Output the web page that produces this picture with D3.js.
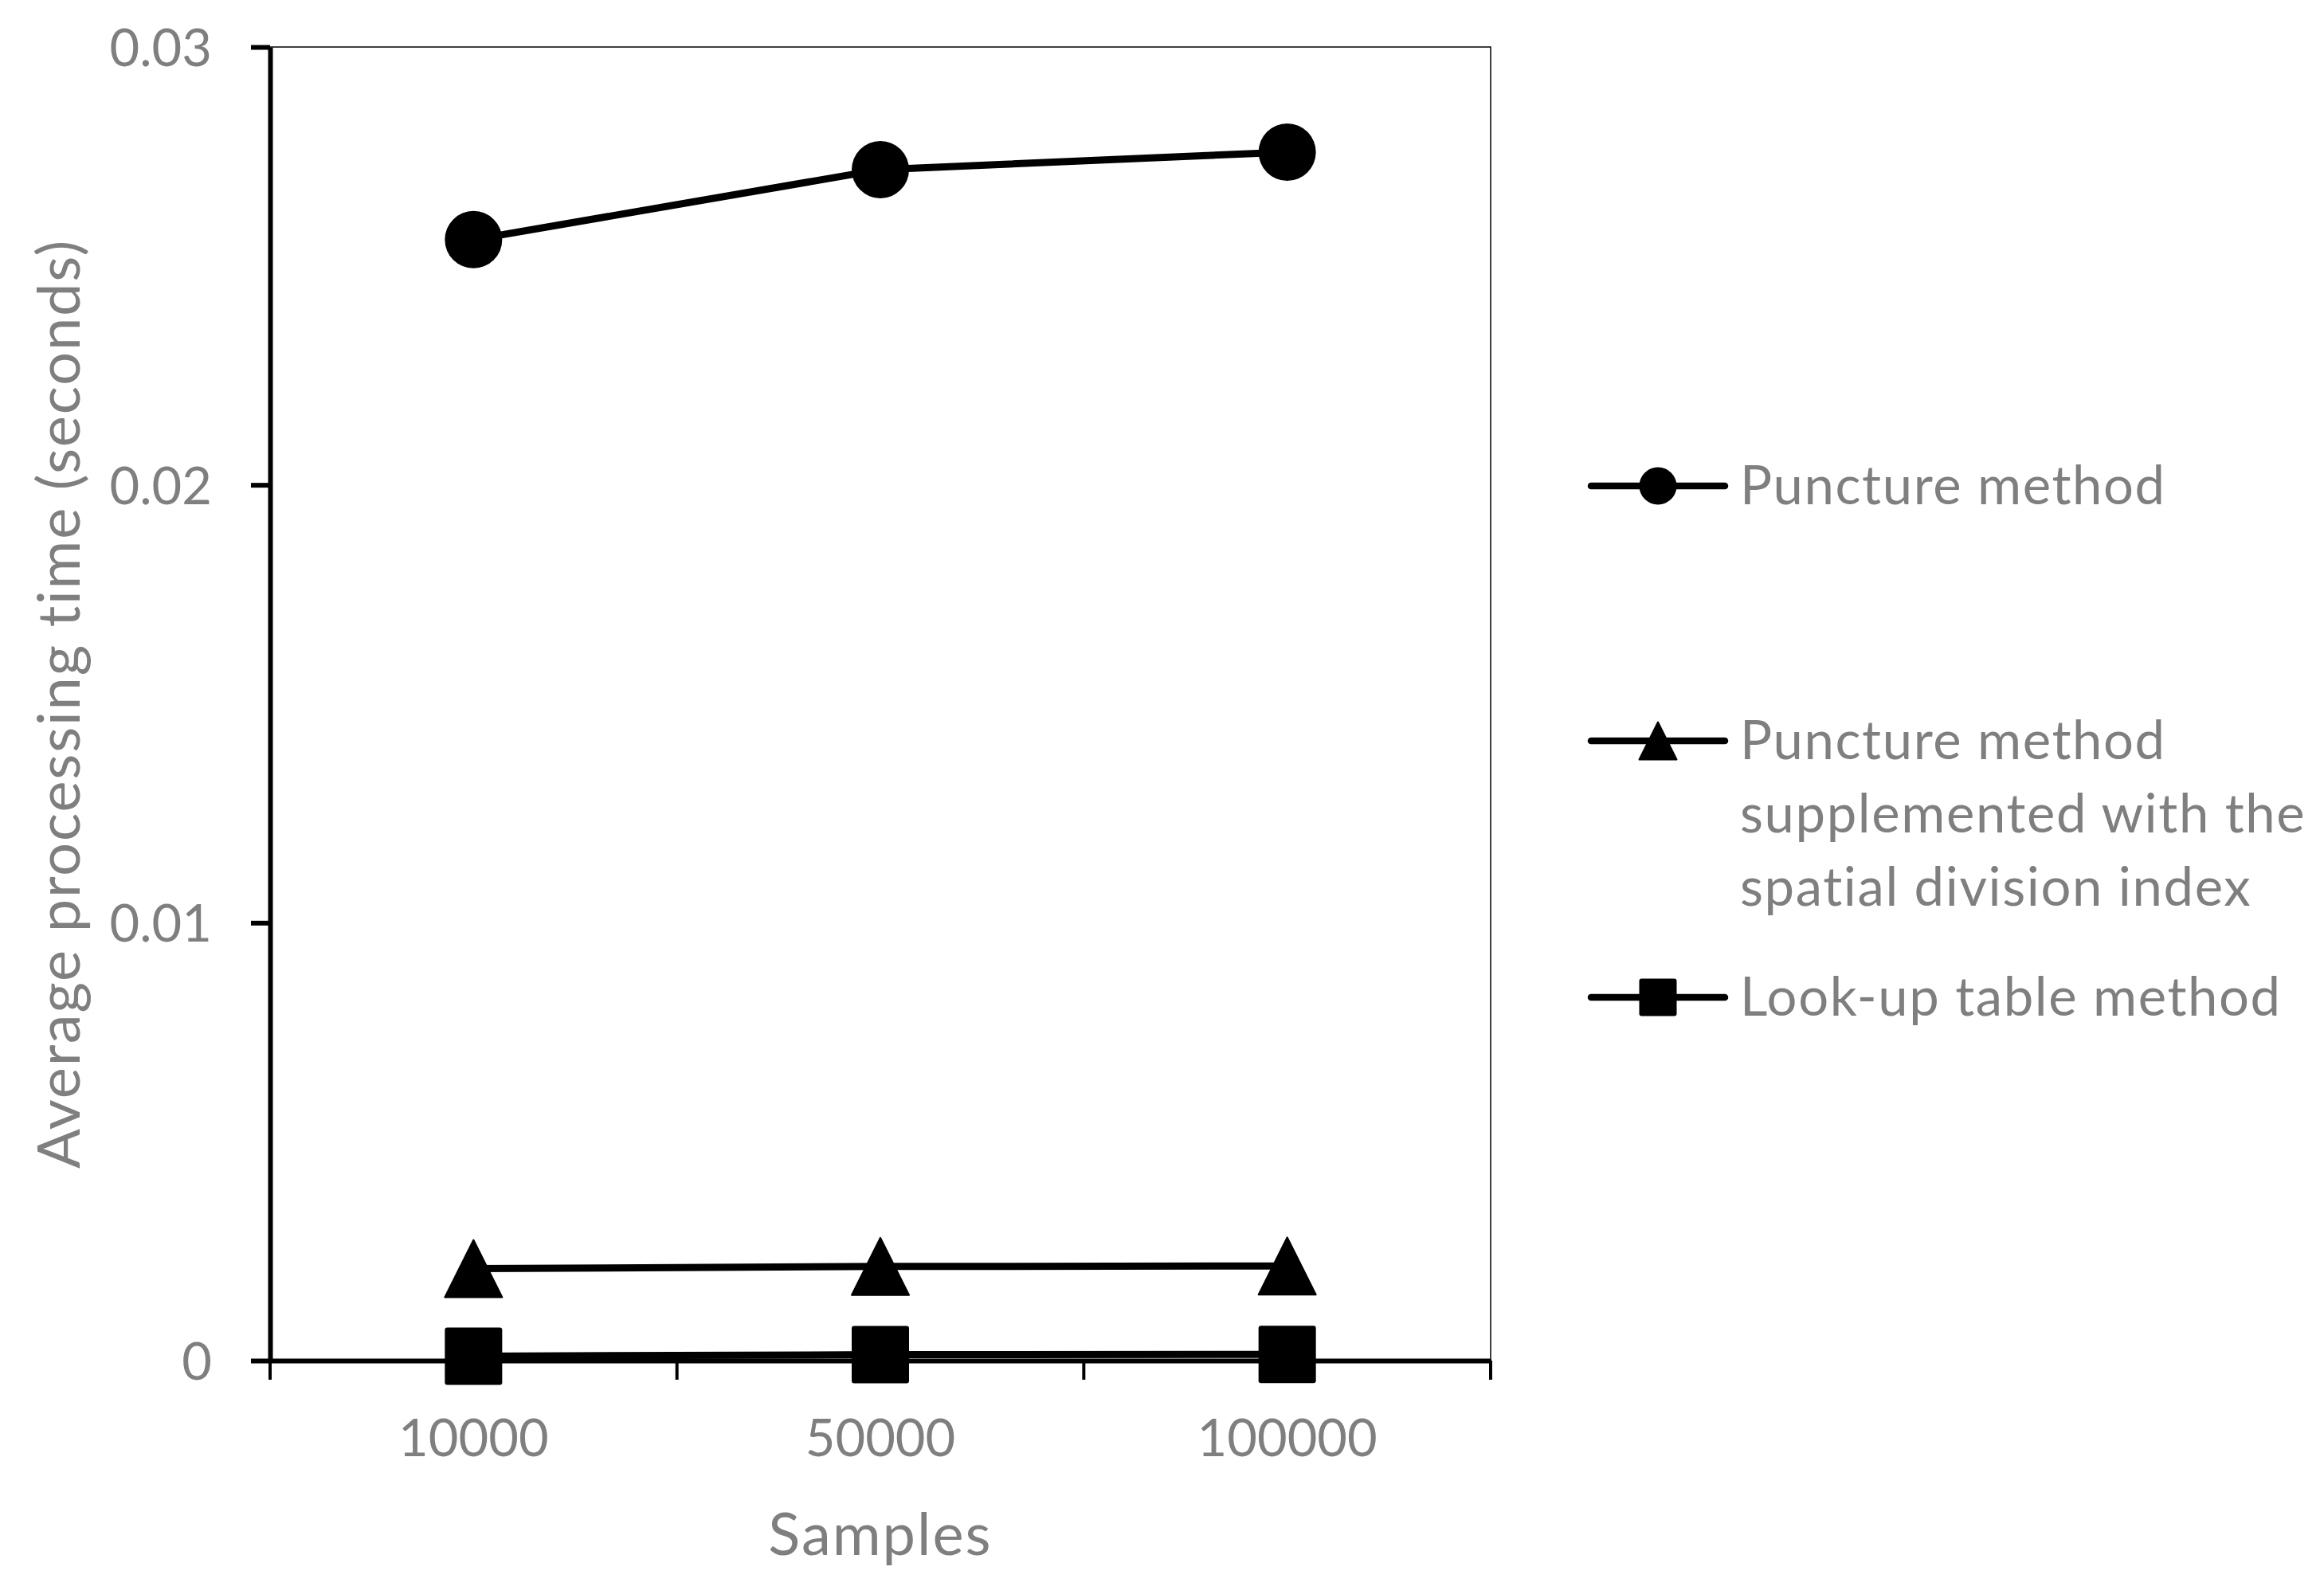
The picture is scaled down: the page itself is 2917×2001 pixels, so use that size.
<!DOCTYPE html>
<html>
<head>
<meta charset="utf-8">
<script src="https://cdn.jsdelivr.net/npm/d3@7"></script>
<style>
  body { margin: 0; background: #fff; }
  svg { display: block; font-family: Lato, "Open Sans", sans-serif; }
</style>
</head>
<body>
<div id="app"></div>
<script>
// data
const samples = ['10000', '50000', '100000'];
const punctureTimes = [0.0256, 0.0272, 0.0276];
const indexedTimes = [0.0021, 0.00215, 0.00216];
const lookupTimes = [0.0001, 0.000135, 0.00014];
const yTicks = [0, 0.01, 0.02, 0.03];
const seriesNames = [
  ['Puncture method'],
  ['Puncture method', 'supplemented with the', 'spatial division index'],
  ['Look-up table method']
];

const W = 2917, H = 2001;
const plotLeft = 339, plotRight = 1871, plotTop = 59, plotBottom = 1708;
const grey = '#7f7f7f';

const svg = d3.select('#app').append('svg')
  .attr('width', W)
  .attr('height', H);

const x = d3.scaleBand().domain(samples).range([plotLeft, plotRight]);
const y = d3.scaleLinear().domain([0, 0.03]).range([plotBottom, plotTop]);

// plot border (thin top / right)
svg.append('path')
  .attr('d', `M${plotLeft},${plotTop}H${plotRight}V${plotBottom}`)
  .attr('fill', 'none')
  .attr('stroke', '#000')
  .attr('stroke-width', 1.5);

// y axis
const yAxis = svg.append('g')
  .attr('transform', `translate(${plotLeft},0)`)
  .call(d3.axisLeft(y).tickValues(yTicks).tickSize(24).tickSizeOuter(0).tickPadding(49)
    .tickFormat((d) => (d === 0 ? '0' : String(d))));
yAxis.select('.domain').attr('stroke-width', 6);
yAxis.selectAll('.tick line').attr('stroke-width', 6);
yAxis.selectAll('text')
  .attr('font-size', 65)
  .attr('font-family', 'Lato')
  .attr('fill', grey)
  .attr('dy', '0.36em');

// x axis: labels at band centres, ticks at band edges
const xAxis = svg.append('g')
  .attr('transform', `translate(0,${plotBottom})`)
  .call(d3.axisBottom(x).tickSize(0).tickSizeOuter(0));
xAxis.select('.domain').attr('stroke-width', 6);
xAxis.selectAll('text')
  .attr('font-size', 65)
  .attr('font-family', 'Lato')
  .attr('fill', grey)
  .attr('y', 120)
  .attr('dy', 0);

const edges = samples.map((s) => x(s)).concat([x(samples[samples.length - 1]) + x.bandwidth()]);
xAxis.selectAll('line.edge')
  .data(edges)
  .join('line')
  .attr('class', 'edge')
  .attr('x1', (d) => d)
  .attr('x2', (d) => d)
  .attr('y1', 0)
  .attr('y2', 24)
  .attr('stroke', '#000')
  .attr('stroke-width', 4);

// axis titles
svg.append('text')
  .attr('x', (plotLeft + plotRight) / 2)
  .attr('y', 1952)
  .attr('text-anchor', 'middle')
  .attr('font-size', 74)
  .attr('letter-spacing', 2)
  .attr('fill', grey)
  .text('Samples');

svg.append('text')
  .attr('transform', `translate(100,${(plotTop + plotBottom) / 2}) rotate(-90)`)
  .attr('text-anchor', 'middle')
  .attr('font-size', 74)
  .attr('letter-spacing', 1.8)
  .attr('fill', grey)
  .text('Average processing time (seconds)');

// marker shapes
function marker(g, kind, s) {
  const h = s / 2;
  if (kind === 'circle') {
    g.append('circle').attr('r', h).attr('fill', '#000');
  } else if (kind === 'triangle') {
    g.append('path')
      .attr('d', `M0,${-h}L${h},${h}L${-h},${h}Z`)
      .attr('fill', '#000')
      .attr('stroke', '#000')
      .attr('stroke-width', 2)
      .attr('stroke-linejoin', 'round');
  } else {
    g.append('rect')
      .attr('x', -h).attr('y', -h)
      .attr('width', s).attr('height', s)
      .attr('rx', 3)
      .attr('fill', '#000');
  }
}

const series = [
  { values: punctureTimes, kind: 'circle' },
  { values: indexedTimes, kind: 'triangle' },
  { values: lookupTimes, kind: 'square' }
];

const line = d3.line()
  .x((d, i) => x(samples[i]) + x.bandwidth() / 2)
  .y((d) => y(d));

series.forEach((s) => {
  svg.append('path')
    .datum(s.values)
    .attr('d', line)
    .attr('fill', 'none')
    .attr('stroke', '#000')
    .attr('stroke-width', 9);

  svg.selectAll(null)
    .data(s.values)
    .join('g')
    .attr('transform', (d, i) => `translate(${x(samples[i]) + x.bandwidth() / 2},${y(d)})`)
    .each(function () {
      marker(d3.select(this), s.kind, 72);
    });
});

// legend
const legendRows = [610, 930, 1252];
const lg = svg.append('g');
series.forEach((s, k) => {
  const g = lg.append('g').attr('transform', `translate(0,${legendRows[k]})`);
  g.append('line')
    .attr('x1', 1997).attr('x2', 2165)
    .attr('stroke', '#000')
    .attr('stroke-width', 8.5)
    .attr('stroke-linecap', 'round');
  const m = g.append('g').attr('transform', 'translate(2081,0)');
  marker(m, s.kind, 47);
  g.selectAll('text')
    .data(seriesNames[k])
    .join('text')
    .attr('x', 2184)
    .attr('y', (d, i) => 23 + i * 92)
    .attr('font-size', 67)
    .attr('letter-spacing', 1.6)
    .attr('fill', grey)
    .text((d) => d);
});
</script>
</body>
</html>
